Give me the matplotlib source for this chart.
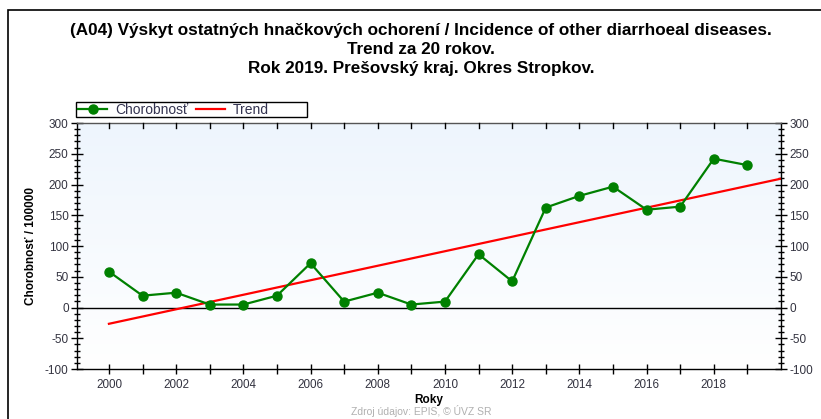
import numpy as np
import matplotlib.pyplot as plt
from matplotlib.ticker import MultipleLocator, FixedLocator
from matplotlib.patches import Rectangle

# data
years = [2000, 2001, 2002, 2003, 2004, 2005, 2006, 2007, 2008, 2009,
         2010, 2011, 2012, 2013, 2014, 2015, 2016, 2017, 2018, 2019]
incidence = [58.4, 19.2, 24.1, 4.8, 4.8, 19.2, 72.0, 9.6, 24.1, 4.8,
             9.6, 86.6, 42.5, 162.5, 181.5, 196.5, 159.0, 164.0, 242.0, 231.5]
trend_years = [2000, 2020]
trend_values = [-26.5, 209.5]
labeled_years = [2000, 2002, 2004, 2006, 2008, 2010, 2012, 2014, 2016, 2018]

title = ("(A04) Výskyt ostatných hnačkových ochorení / Incidence of other diarrhoeal diseases.\n"
         "Trend za 20 rokov.\n"
         "Rok 2019. Prešovský kraj. Okres Stropkov.")
source = "Zdroj údajov: EPIS, © ÚVZ SR"

plt.rcParams['font.family'] = ['Liberation Sans', 'DejaVu Sans']
plt.rcParams['axes.unicode_minus'] = False

fig = plt.figure(figsize=(8.21, 4.19), dpi=100)
W, H = 821, 419

# outer frame (left and top edges visible, rest runs off the image)
fig.patches.append(Rectangle((8 / W, -0.1), 1.2, (H - 10) / H + 0.1, transform=fig.transFigure,
                             fill=False, edgecolor='black', linewidth=1.2))

ax = fig.add_axes([77 / W, (H - 369) / H, (781 - 77) / W, (369 - 123) / H])

xmin, xmax = 1999.05, 2020.0
ymin, ymax = -100, 300

# light blue gradient background
grad = np.linspace(0, 1, 256).reshape(-1, 1)
top_col = np.array([0.933, 0.961, 0.992])
bot_col = np.array([1.0, 1.0, 1.0])
img = bot_col + (top_col - bot_col) * grad
ax.imshow(img[:, None, :].repeat(2, axis=1), extent=[xmin, xmax, ymin, ymax],
          origin='lower', aspect='auto', zorder=0)

ax.axhline(0, color='black', linewidth=1.0, zorder=1)
ax.plot(trend_years, trend_values, color='#ff0000', linewidth=1.6, label='Trend', zorder=2)
ax.plot(years, incidence, color='#008000', linewidth=1.6, marker='o', markersize=6.5,
        label='Chorobnosť', zorder=3)

ax.set_xlim(xmin, xmax)
ax.set_ylim(ymin, ymax)

ax.xaxis.set_major_locator(FixedLocator(labeled_years))
ax.xaxis.set_minor_locator(FixedLocator([y for y in range(2001, 2020, 2)]))
ax.yaxis.set_major_locator(MultipleLocator(50))
ax.yaxis.set_minor_locator(MultipleLocator(10))

lab_col = '#333340'
ax.tick_params(axis='y', which='both', direction='inout', left=True, right=True,
               labelleft=True, labelright=True, labelsize=8.5, labelcolor=lab_col, width=1)
ax.tick_params(axis='y', which='major', length=8, pad=2)
ax.tick_params(axis='y', which='minor', length=5)
ax.tick_params(axis='x', which='both', direction='inout', bottom=True, top=False,
               labelsize=8.4, labelcolor=lab_col, width=1)
ax.tick_params(axis='x', which='major', length=7, pad=4)
ax.tick_params(axis='x', which='minor', length=7)

# top ticks every year, pointing inward
for yr in range(2000, 2020):
    ax.plot([yr, yr], [ymax, ymax - 8], color='black', linewidth=1, clip_on=False, zorder=4)

for s in ax.spines.values():
    s.set_color('black')
    s.set_linewidth(1)
ax.spines['top'].set_color('#555555')

ax.set_xlabel('Roky', fontsize=8.5, fontweight='bold', labelpad=2)
ax.set_ylabel('Chorobnosť / 100000', fontsize=8.5, fontweight='bold', labelpad=6)

# legend: own frame box, entries placed inside
ax.add_patch(Rectangle((76 / W, (H - 117) / H), (307 - 76) / W, 15 / H,
                       transform=fig.transFigure, fill=True, facecolor='white',
                       edgecolor='black', linewidth=1, clip_on=False, zorder=5))
handles, labels = ax.get_legend_handles_labels()
leg = ax.legend(handles[::-1], labels[::-1], ncol=2, loc='center left',
                bbox_to_anchor=(78 / W, (H - 109.5) / H), bbox_transform=fig.transFigure,
                fontsize=10, frameon=False, borderpad=0, handlelength=2.1,
                columnspacing=0.5, handletextpad=0.6, borderaxespad=0)
leg.set_zorder(10)
for t in leg.get_texts():
    t.set_color('#333350')

fig.text(421 / W, (H - 23) / H, title, ha='center', va='top', fontsize=12.3,
         fontweight='bold', linespacing=1.32)
fig.text(421 / W, 2 / H, source, ha='center', va='bottom', fontsize=7.5, color='#b0b0b0')

fig.savefig('out.png', dpi=100)
